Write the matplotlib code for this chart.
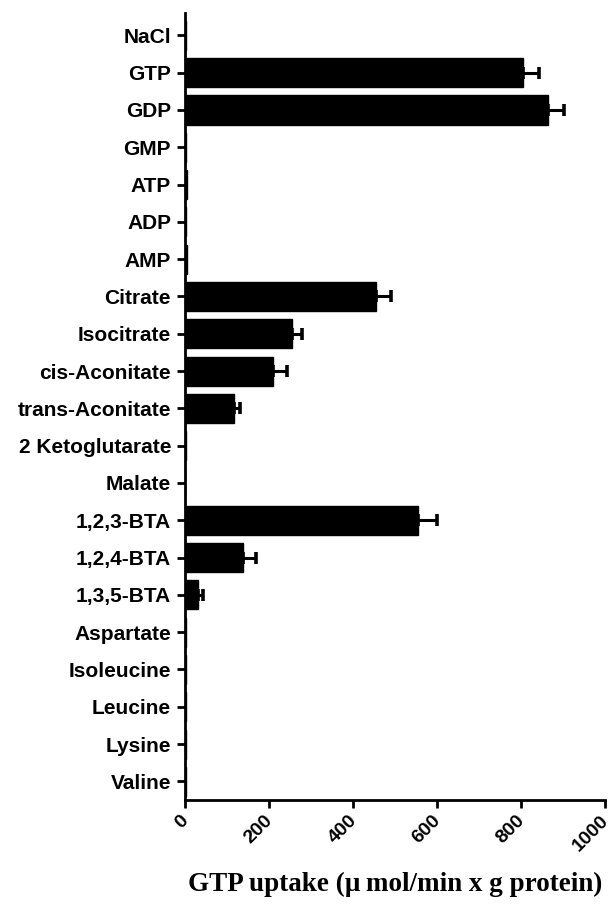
#!/usr/bin/env python3
"""GTP uptake by substrate: horizontal bar chart with one-sided SE bars."""
import numpy as np
import matplotlib.pyplot as plt
from matplotlib.transforms import ScaledTranslation

SUBSTRATES = [
    "NaCl", "GTP", "GDP", "GMP", "ATP", "ADP", "AMP",
    "Citrate", "Isocitrate", "cis-Aconitate", "trans-Aconitate",
    "2 Ketoglutarate", "Malate", "1,2,3-BTA", "1,2,4-BTA", "1,3,5-BTA",
    "Aspartate", "Isoleucine", "Leucine", "Lysine", "Valine",
]
UPTAKE = [2, 805, 864, 3, 4, 3, 5,
          455, 255, 210, 117,
          2, 1, 555, 137, 31,
          3, 2, 2, 2, 2]
UPTAKE_SE = [0, 37, 38, 0, 0, 0, 0,
             35, 24, 33, 14,
             0, 0, 45, 33, 12,
             0, 0, 0, 0, 0]
XTICKS = [0, 200, 400, 600, 800, 1000]


def main():
    plt.rcParams["font.family"] = ["Liberation Sans", "DejaVu Sans"]
    fig = plt.figure(figsize=(6.11, 9.08), dpi=100)
    ax = fig.add_axes([185 / 611, 1 - 800 / 908, 420 / 611, 787 / 908])

    y = np.arange(len(SUBSTRATES))
    vals = np.array(UPTAKE, dtype=float)
    se = np.array(UPTAKE_SE, dtype=float)

    ax.barh(y, vals, height=0.78, color="black", edgecolor="black", zorder=2)
    shown = se > 0
    ax.errorbar(vals[shown], y[shown],
                xerr=[np.zeros(shown.sum()), se[shown]],
                fmt="none", ecolor="black", elinewidth=2.2,
                capsize=4, capthick=2.6, zorder=3)

    ax.set_ylim(20.5, -0.6)
    ax.set_xlim(0, 1000)
    ax.set_yticks(y)
    ax.set_yticklabels(SUBSTRATES, fontsize=15, fontweight="bold")

    # x tick labels drawn by hand: rotated 45 deg, pulled slightly left
    ax.set_xticks(XTICKS)
    ax.set_xticklabels([])
    lbl_trans = ax.get_xaxis_transform() + ScaledTranslation(
        -0.05, -0.12, fig.dpi_scale_trans)
    for t in XTICKS:
        ax.text(t, 0, str(t), transform=lbl_trans, fontsize=14,
                fontweight="bold", rotation=45, ha="right", va="top",
                rotation_mode="anchor", clip_on=False)

    for side in ("top", "right"):
        ax.spines[side].set_visible(False)
    for side in ("left", "bottom"):
        ax.spines[side].set_linewidth(2)
    ax.tick_params(axis="both", width=2, length=6)
    ax.tick_params(axis="y", pad=4)

    ax.set_xlabel("GTP uptake (\u00b5\u2009mol/min x g protein)",
                  family=["Liberation Serif", "DejaVu Serif"],
                  fontsize=19.5, fontweight="bold", labelpad=42)

    fig.savefig("out.png", dpi=100)


if __name__ == "__main__":
    main()
